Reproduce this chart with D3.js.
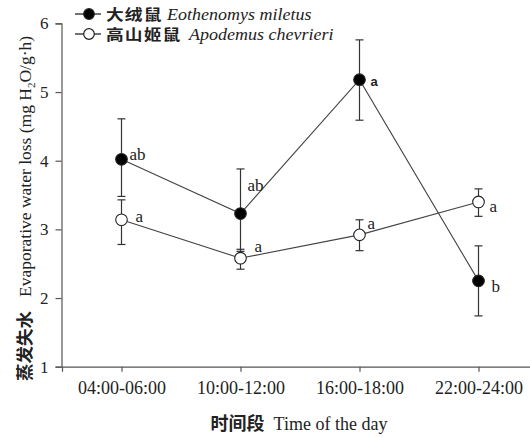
<!DOCTYPE html>
<html><head><meta charset="utf-8">
<script src="https://cdn.jsdelivr.net/npm/d3@7"></script>
<style>
body{margin:0;background:#fff;}
text{font-family:"Liberation Serif","Times New Roman",serif;fill:#222;}
</style></head>
<body><svg id="c" width="530" height="437"></svg>
<script>
const categories = ["04:00-06:00","10:00-12:00","16:00-18:00","22:00-24:00"];
const yTicks = [1,2,3,4,5,6];
// 大绒鼠 Eothenomys miletus
const eothMean = [4.02, 3.23, 5.18, 2.25];
const eothHi   = [4.61, 3.88, 5.76, 2.76];
const eothLo   = [3.48, 2.68, 4.59, 1.74];
const eothLetters = ["ab","ab","a","b"];
// 高山姬鼠 Apodemus chevrieri
const apoMean = [3.14, 2.58, 2.92, 3.40];
const apoHi   = [3.43, 2.71, 3.14, 3.59];
const apoLo   = [2.78, 2.42, 2.69, 3.19];
const apoLetters = ["a","a","a","a"];

const svg = d3.select("#c");
const x = d3.scalePoint().domain(categories).range([62, 538]).padding(0.5);
const y = d3.scaleLinear().domain([1,6]).range([366.7, 23.4]);
const ink = "#333";

// axes
const xAxis = svg.append("g").attr("transform","translate(0,366.7)")
  .call(d3.axisBottom(x).tickSizeOuter(0).tickSize(5).tickPadding(10));
xAxis.selectAll("text").style("font-size","18px").attr("dy","0.71em");
const yAxis = svg.append("g").attr("transform","translate(61.5,0)")
  .call(d3.axisLeft(y).tickValues(yTicks).tickFormat(d3.format("d")).tickSizeOuter(0).tickSize(6).tickPadding(7));
yAxis.selectAll("text").style("font-size","17px");
svg.selectAll(".domain, .tick line").attr("stroke","#555").attr("stroke-width",1.2);
svg.selectAll(".tick text").attr("fill","#222");

// series
const series = [
  {mean:eothMean, hi:eothHi, lo:eothLo, fill:"#000", letters:eothLetters,
   lab:[[8,-5],[7,-29],[11,2],[13,5]], bold:[false,false,true,false]},
  {mean:apoMean, hi:apoHi, lo:apoLo, fill:"#fff", letters:apoLetters,
   lab:[[14,-4],[14,-12],[8,-12],[11,4]], bold:[false,false,false,false]}
];
const line = d3.line().x((d,i)=>x(categories[i])).y(d=>y(d));
series.forEach(s=>{
  const g = svg.append("g");
  categories.forEach((c,i)=>{
    const cx = x(c);
    g.append("line").attr("x1",cx).attr("x2",cx).attr("y1",y(s.hi[i])).attr("y2",y(s.lo[i])).attr("stroke",ink).attr("stroke-width",1.2);
    [s.hi[i], s.lo[i]].forEach(v=>{
      g.append("line").attr("x1",cx-4).attr("x2",cx+4).attr("y1",y(v)).attr("y2",y(v)).attr("stroke",ink).attr("stroke-width",1.2);
    });
  });
  g.append("path").datum(s.mean).attr("d",line).attr("fill","none").attr("stroke","#444").attr("stroke-width",1.1);
  g.selectAll("circle").data(s.mean).join("circle")
    .attr("cx",(d,i)=>x(categories[i])).attr("cy",d=>y(d)).attr("r",5.8)
    .attr("fill",s.fill).attr("stroke","#222").attr("stroke-width",1.1);
  s.mean.forEach((v,i)=>{
    const t = g.append("text").attr("x",x(categories[i])+s.lab[i][0]).attr("y",y(v)+s.lab[i][1])
      .attr("dy","0.35em").text(s.letters[i]);
    if(s.bold[i]) t.style("font-family","Liberation Sans, Arial, sans-serif").style("font-weight","bold").style("font-size","13px");
    else t.style("font-size","17px");
  });
});

// legend
const legend = [
  {cn:"大绒鼠", la:"Eothenomys miletus", fill:"#000", cnw:56},
  {cn:"高山姬鼠", la:"Apodemus chevrieri", fill:"#fff", cnw:78}
];
legend.forEach((l,i)=>{
  const ly = 14 + i*20;
  svg.append("line").attr("x1",75).attr("x2",101).attr("y1",ly).attr("y2",ly).attr("stroke","#222").attr("stroke-width",1.3);
  svg.append("circle").attr("cx",89).attr("cy",ly).attr("r",5.3).attr("fill",l.fill).attr("stroke","#222").attr("stroke-width",1.2);
  svg.append("text").attr("transform",`translate(106,${ly}) scale(1.18,1)`).attr("dy","0.38em")
    .style("font-size","15px").style("font-family","Noto Sans CJK SC").style("font-weight","bold")
    .style("letter-spacing","1px").text(l.cn);
  svg.append("text").attr("transform",`translate(${106 + l.cnw + 5},${ly}) scale(1.06,1)`).attr("dy","0.34em")
    .style("font-size","17px").style("font-style","italic").text(l.la);
});

// axis titles
const xt = svg.append("text").attr("x",299).attr("y",430).attr("text-anchor","middle").style("font-size","18px");
xt.append("tspan").text("时间段").style("font-family","Noto Sans CJK SC").style("font-weight","bold");
xt.append("tspan").text("Time of the day").attr("dx",9);

const yt = svg.append("text").attr("transform","translate(31,381) rotate(-90)").attr("x",0).attr("y",0).style("font-size","17.5px");
yt.append("tspan").text("蒸发失水").style("font-family","Noto Sans CJK SC").style("font-weight","bold");
yt.append("tspan").text("Evaporative water loss (mg H").attr("dx",14);
yt.append("tspan").text("2").style("font-size","11px").attr("dy",4);
yt.append("tspan").text("O/g\u00b7h)").attr("dy",-4);
</script></body></html>
